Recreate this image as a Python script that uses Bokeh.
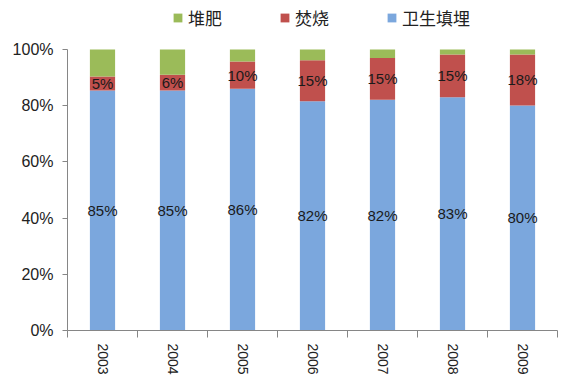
from bokeh.plotting import figure
from bokeh.models import (ColumnDataSource, FixedTicker, PrintfTickFormatter,
                          Legend, LegendItem, Range1d)
from bokeh.core.properties import value
from bokeh.embed import file_html
from bokeh.resources import INLINE

# ---- data ----
years = ["2003", "2004", "2005", "2006", "2007", "2008", "2009"]
landfill = [85.4, 85.4, 86.0, 81.6, 82.1, 83.0, 80.1]      # 卫生填埋
incineration = [5.0, 5.6, 9.7, 14.6, 14.9, 15.2, 18.1]     # 焚烧
compost = [9.6, 9.0, 4.3, 3.8, 3.0, 1.8, 1.8]              # 堆肥
series_names = ["卫生填埋", "焚烧", "堆肥"]
series_colors = ["#7BA7DD", "#C0504D", "#9BBB59"]
y_ticks = [0, 20, 40, 60, 80, 100]

x = [i + 0.5 for i in range(len(years))]
source = ColumnDataSource(dict(x=x, landfill=landfill,
                               incineration=incineration, compost=compost))

# frame extends to the top so that the legend fits inside; axis limited by bounds
frame_h, plot_h = 330, 281
p = figure(width=566, height=377, x_range=Range1d(0, len(years)),
           y_range=Range1d(0, 100 * frame_h / plot_h), output_backend="svg",
           toolbar_location=None, min_border_left=67, min_border_right=9,
           min_border_top=0, min_border_bottom=47)
p.outline_line_color = None
p.grid.visible = False
p.background_fill_color = "white"

renderers = p.vbar_stack(["landfill", "incineration", "compost"], x="x",
                         width=0.36, color=series_colors, line_color=None,
                         source=source)

# data labels (center of landfill and incineration segments)
lx, ly, lt = [], [], []
for i, xi in enumerate(x):
    lx.append(xi); ly.append(landfill[i] / 2); lt.append(f"{round(landfill[i])}%")
    lx.append(xi); ly.append(landfill[i] + incineration[i] / 2)
    lt.append(f"{round(incineration[i])}%")
lsrc = ColumnDataSource(dict(x=lx, y=ly, t=lt))
p.text(x="x", y="y", text="t", source=lsrc, text_align="center",
       text_baseline="middle", text_font=value("Liberation Sans"),
       text_font_size="15px", text_color="#1a1a1a")

axis_color = "#868686"
# y axis
p.yaxis.ticker = FixedTicker(ticks=y_ticks)
p.yaxis.bounds = (y_ticks[0], y_ticks[-1])
p.yaxis.formatter = PrintfTickFormatter(format="%d%%")
p.yaxis.axis_line_color = axis_color
p.yaxis.major_tick_line_color = axis_color
p.yaxis.major_tick_out = 5
p.yaxis.major_tick_in = 0
p.yaxis.minor_tick_line_color = None
p.yaxis.major_label_standoff = 9
p.yaxis.major_label_text_font = "Liberation Sans"
p.yaxis.major_label_text_font_size = "16px"
p.yaxis.major_label_text_color = "#222222"

# x axis
p.xaxis.ticker = FixedTicker(ticks=x, minor_ticks=list(range(len(years) + 1)))
p.xaxis.major_label_overrides = {xi: yr for xi, yr in zip(x, years)}
p.xaxis.axis_line_color = axis_color
p.xaxis.major_tick_line_color = None
p.xaxis.major_tick_out = 0
p.xaxis.major_tick_in = 0
p.xaxis.minor_tick_line_color = axis_color
p.xaxis.minor_tick_out = 7
p.xaxis.minor_tick_in = 0
p.xaxis.major_label_orientation = "vertical"
p.xaxis.major_label_standoff = 6
p.xaxis.major_label_text_font = "Liberation Sans"
p.xaxis.major_label_text_font_size = "14px"
p.xaxis.major_label_text_color = "#222222"

legend = Legend(items=[LegendItem(label=series_names[2], renderers=[renderers[2]]),
                       LegendItem(label=series_names[1], renderers=[renderers[1]]),
                       LegendItem(label=series_names[0], renderers=[renderers[0]])],
                orientation="horizontal", location=(105, 300),
                glyph_width=11, glyph_height=11, label_standoff=5, spacing=51,
                label_width=40, padding=0, margin=0, border_line_color=None,
                background_fill_alpha=0, label_text_font="Noto Sans CJK SC",
                label_text_font_size="17px", label_text_color="#222222")
p.add_layout(legend)

open("out.html", "w").write(file_html(p, INLINE))
